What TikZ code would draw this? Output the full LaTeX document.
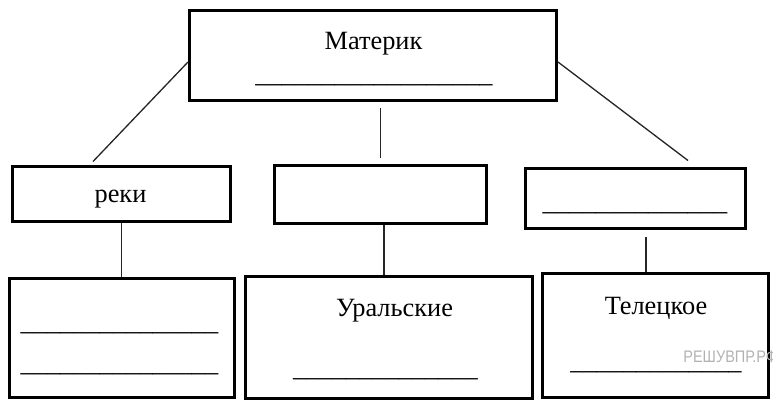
\documentclass[tikz,border=0pt]{standalone}
\usepackage{fontspec}
\setmainfont{Liberation Serif}
\newfontfamily\wmfont[FakeStretch=0.87]{Liberation Sans}
\usepackage{tikz}
\usetikzlibrary{positioning, calc}

\begin{document}
\begin{tikzpicture}[
    box/.style={rectangle, draw, line width=1.7pt, inner sep=0pt},
    line/.style={line width=0.75pt, black!85},
    label/.style={font=\fontsize{15}{18}\selectfont, inner sep=0pt, anchor=base},
    blank/.style={font=\fontsize{15}{18}\selectfont, inner sep=0pt, anchor=base}
]
\useasboundingbox (0,0) rectangle (15.46,8.02);

% верхний уровень
\node[box, minimum width=7.34cm, minimum height=1.8cm] (materik) at (7.46,6.91) {};
\node[label] (materikText) at (7.47,7.02) {Материк};
\node[blank] (materikBlank) at (7.48,6.37) {\_\_\_\_\_\_\_\_\_\_\_\_\_\_\_\_\_\_};

% средний уровень
\node[box, minimum width=4.36cm, minimum height=1.1cm] (reki) at (2.43,4.14) {};
\node[label] (rekiText) at (2.41,3.96) {реки};
\node[box, minimum width=4.24cm, minimum height=1.16cm] (gory) at (7.61,4.13) {};
\node[box, minimum width=4.4cm, minimum height=1.2cm] (ozera) at (12.71,4.05) {};
\node[blank] (ozeraBlank) at (12.70,3.81) {\_\_\_\_\_\_\_\_\_\_\_\_\_\_};

% нижний уровень
\node[box, minimum width=4.5cm, minimum height=2.38cm] (rekiEx) at (2.44,1.26) {};
\node[blank] (rekiBlankA) at (2.39,1.41) {\_\_\_\_\_\_\_\_\_\_\_\_\_\_\_};
\node[blank] (rekiBlankB) at (2.39,0.59) {\_\_\_\_\_\_\_\_\_\_\_\_\_\_\_};
\node[box, minimum width=5.74cm, minimum height=2.44cm] (goryEx) at (7.78,1.27) {};
\node[label] (goryText) at (7.89,1.68) {Уральские};
\node[blank] (goryBlank) at (7.71,0.49) {\_\_\_\_\_\_\_\_\_\_\_\_\_\_};
\node[box, minimum width=4.52cm, minimum height=2.48cm] (ozeraEx) at (13.11,1.31) {};
\node[label] (ozeraText) at (13.12,1.72) {Телецкое};
\node[blank] (ozeraBlank2) at (13.12,0.63) {\_\_\_\_\_\_\_\_\_\_\_\_\_};

% водяной знак
\node[anchor=base west, inner sep=0pt, text=black!30, font=\wmfont\fontsize{9.5}{11}\selectfont] (mark) at (13.66,0.77) {РЕШУВПР.РФ};

% линии
\draw[line] ([yshift=-0.13cm]materik.west) -- ([xshift=-0.57cm, yshift=0.07cm]reki.north);
\draw[line] ([yshift=-0.13cm]materik.east) -- ([xshift=1.05cm, yshift=0.13cm]ozera.north);
\draw[line] ([yshift=-0.13cm]materik.south -| gory.north) -- ([yshift=0.13cm]gory.north);
\draw[line] (reki.south) -- (reki.south |- rekiEx.north);
\draw[line] ([xshift=0.07cm]gory.south) -- ([xshift=0.07cm]gory.south |- goryEx.north);
\draw[line] ([xshift=0.21cm, yshift=-0.14cm]ozera.south) -- ([xshift=0.21cm]ozera.south |- ozeraEx.north);
\end{tikzpicture}
\end{document}
